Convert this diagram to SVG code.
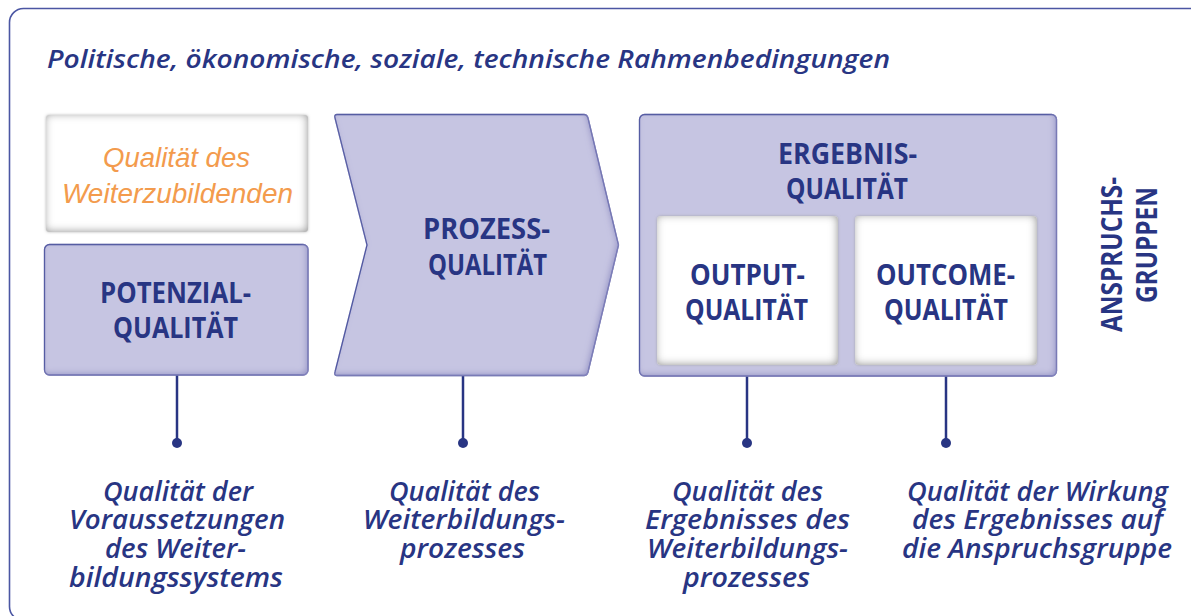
<svg xmlns="http://www.w3.org/2000/svg" width="1191" height="616" viewBox="0 0 1191 616">
  <style>
    .frame { fill: #ffffff; stroke: #4b56a3; stroke-width: 1.6; }
    .lav { fill: #c6c5e2; stroke: #3d4899; stroke-width: 1.3; }
    .white { fill: #ffffff; }
    .head { font-family: "Open Sans", "Noto Sans", sans-serif; font-weight: 700; font-size: 28.5px; fill: #283583; }
    .title { font-family: "Open Sans", "Noto Sans", sans-serif; font-style: italic; font-weight: 600; font-size: 26px; fill: #283583; }
    .note { font-family: "Open Sans", "Noto Sans", sans-serif; font-style: italic; font-weight: 600; font-size: 27px; fill: #283583; }
    .soft { font-family: "Liberation Sans", Arial, sans-serif; font-style: italic; font-size: 27px; fill: #f39b4d; }
    .conn line { stroke: #283583; stroke-width: 2.5; }
    .conn circle { fill: #283583; }
  </style>
  <defs>
    <!-- inner shading for the lavender shapes -->
    <filter id="bevel" x="-5%" y="-5%" width="110%" height="110%">
      <feFlood flood-color="#8e8dc3" result="c"/>
      <feComposite in="c" in2="SourceAlpha" operator="out" result="outside"/>
      <feGaussianBlur in="outside" stdDeviation="3" result="blur"/>
      <feOffset in="blur" dx="-2" dy="-2" result="off"/>
      <feComposite in="off" in2="SourceAlpha" operator="in" result="inner"/>
      <feMerge><feMergeNode in="SourceGraphic"/><feMergeNode in="inner"/></feMerge>
    </filter>
    <!-- grey bevel for the white panels -->
    <filter id="panel" x="-10%" y="-10%" width="120%" height="120%">
      <feFlood flood-color="#8c8c8c" result="c"/>
      <feComposite in="c" in2="SourceAlpha" operator="out" result="outside"/>
      <feGaussianBlur in="outside" stdDeviation="4.5" result="blur"/>
      <feOffset in="blur" dx="-1.5" dy="-1.5" result="off"/>
      <feComposite in="off" in2="SourceAlpha" operator="in" result="inner"/>
      <feGaussianBlur in="SourceAlpha" stdDeviation="1.5" result="glowA"/>
      <feFlood flood-color="#9a9a9a" flood-opacity="0.7"/>
      <feComposite in2="glowA" operator="in" result="glow"/>
      <feMerge><feMergeNode in="glow"/><feMergeNode in="SourceGraphic"/><feMergeNode in="inner"/></feMerge>
    </filter>
  </defs>

  <!-- outer frame -->
  <rect class="frame" x="9.5" y="8.5" width="1200" height="612" rx="14"/>

  <text class="title" x="47" y="68" textLength="843" lengthAdjust="spacingAndGlyphs">Politische, ökonomische, soziale, technische Rahmenbedingungen</text>

  <!-- connectors -->
  <g id="connectors" class="conn">
    <line x1="177" y1="375" x2="177" y2="443"/>
    <circle cx="177" cy="443" r="5"/>
    <line x1="463" y1="376" x2="463" y2="443"/>
    <circle cx="463" cy="443" r="5"/>
    <line x1="747" y1="365" x2="747" y2="443"/>
    <circle cx="747" cy="443" r="5"/>
    <line x1="946" y1="365" x2="946" y2="443"/>
    <circle cx="946" cy="443" r="5"/>
  </g>

  <g id="weiterzubildende">
    <rect class="white" x="46" y="115" width="262" height="117" rx="3" filter="url(#panel)"/>
    <text class="soft" x="103" y="167" textLength="147" lengthAdjust="spacingAndGlyphs">Qualität des</text>
    <text class="soft" x="62" y="203" textLength="231" lengthAdjust="spacingAndGlyphs">Weiterzubildenden</text>
  </g>

  <g id="potenzial">
    <rect class="lav" x="44.5" y="244.5" width="263.5" height="130.5" rx="5" filter="url(#bevel)"/>
    <text class="head" x="100" y="303" textLength="151" lengthAdjust="spacingAndGlyphs">POTENZIAL-</text>
    <text class="head" x="113" y="338" textLength="125" lengthAdjust="spacingAndGlyphs">QUALITÄT</text>
  </g>

  <g id="prozess">
    <path class="lav" d="M337,114.5 L584,114.5 Q587,114.5 588,118 L618.5,245 L588,372 Q587,375.5 584,375.5 L337,375.5 Q334,375.5 335,372 L367,245 L335,118 Q334,114.5 337,114.5 Z" filter="url(#bevel)"/>
    <text class="head" x="423" y="239" textLength="127" lengthAdjust="spacingAndGlyphs">PROZESS-</text>
    <text class="head" x="428" y="275" textLength="119" lengthAdjust="spacingAndGlyphs">QUALITÄT</text>
  </g>

  <g id="ergebnis">
    <rect class="lav" x="639.5" y="114.5" width="417" height="261.5" rx="5" filter="url(#bevel)"/>
    <text class="head" x="778" y="164" textLength="139" lengthAdjust="spacingAndGlyphs">ERGEBNIS-</text>
    <text class="head" x="786" y="199" textLength="122" lengthAdjust="spacingAndGlyphs">QUALITÄT</text>
  </g>

  <g id="output">
    <rect class="white" x="657" y="216" width="181" height="149" rx="4" filter="url(#panel)"/>
    <text class="head" x="690" y="285" textLength="115" lengthAdjust="spacingAndGlyphs">OUTPUT-</text>
    <text class="head" x="685" y="320" textLength="123" lengthAdjust="spacingAndGlyphs">QUALITÄT</text>
  </g>

  <g id="outcome">
    <rect class="white" x="855" y="216" width="182" height="149" rx="4" filter="url(#panel)"/>
    <text class="head" x="876" y="285" textLength="139" lengthAdjust="spacingAndGlyphs">OUTCOME-</text>
    <text class="head" x="884" y="320" textLength="124" lengthAdjust="spacingAndGlyphs">QUALITÄT</text>
  </g>

  <g id="anspruchsgruppen">
    <text class="head" transform="translate(1122,332) rotate(-90)" x="0" y="0" textLength="155" lengthAdjust="spacingAndGlyphs">ANSPRUCHS-</text>
    <text class="head" transform="translate(1157,303) rotate(-90)" x="0" y="0" textLength="116" lengthAdjust="spacingAndGlyphs">GRUPPEN</text>
  </g>

  <!-- explanations below each quality dimension -->
  <g id="note-potenzial">
    <text class="note" x="103" y="501" textLength="150" lengthAdjust="spacingAndGlyphs">Qualität der</text>
    <text class="note" x="69" y="529" textLength="216" lengthAdjust="spacingAndGlyphs">Voraussetzungen</text>
    <text class="note" x="105" y="558" textLength="141" lengthAdjust="spacingAndGlyphs">des Weiter-</text>
    <text class="note" x="69" y="587" textLength="214" lengthAdjust="spacingAndGlyphs">bildungssystems</text>
  </g>
  <g id="note-prozess">
    <text class="note" x="389" y="501" textLength="151" lengthAdjust="spacingAndGlyphs">Qualität des</text>
    <text class="note" x="363" y="529" textLength="202" lengthAdjust="spacingAndGlyphs">Weiterbildungs-</text>
    <text class="note" x="400" y="558" textLength="125" lengthAdjust="spacingAndGlyphs">prozesses</text>
  </g>
  <g id="note-output">
    <text class="note" x="672" y="501" textLength="151" lengthAdjust="spacingAndGlyphs">Qualität des</text>
    <text class="note" x="645" y="529" textLength="205" lengthAdjust="spacingAndGlyphs">Ergebnisses des</text>
    <text class="note" x="647" y="558" textLength="201" lengthAdjust="spacingAndGlyphs">Weiterbildungs-</text>
    <text class="note" x="683" y="587" textLength="127" lengthAdjust="spacingAndGlyphs">prozesses</text>
  </g>
  <g id="note-outcome">
    <text class="note" x="907" y="501" textLength="261" lengthAdjust="spacingAndGlyphs">Qualität der Wirkung</text>
    <text class="note" x="912" y="529" textLength="251" lengthAdjust="spacingAndGlyphs">des Ergebnisses auf</text>
    <text class="note" x="902" y="558" textLength="270" lengthAdjust="spacingAndGlyphs">die Anspruchsgruppe</text>
  </g>
</svg>
